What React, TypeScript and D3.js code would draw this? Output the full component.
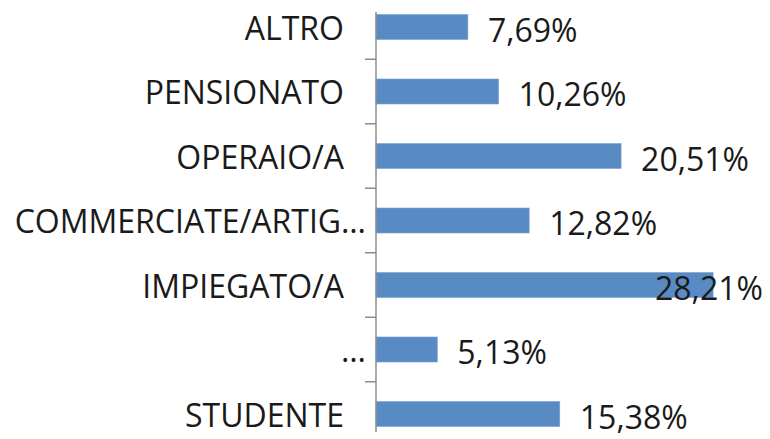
import React from 'react';
import * as d3 from 'd3';

// categories top to bottom, values in %
const categories = ['ALTRO', 'PENSIONATO', 'OPERAIO/A', 'COMMERCIATE/ARTIG…', 'IMPIEGATO/A', '…', 'STUDENTE'];
const values = [7.69, 10.26, 20.51, 12.82, 28.21, 5.13, 15.38];
const valueLabels = ['7,69%', '10,26%', '20,51%', '12,82%', '28,21%', '5,13%', '15,38%'];

const W = 770;
const H = 439;
const axisX = 376;
const font = '"Open Sans", sans-serif';

const App: React.FC = () => {
  const y = d3.scaleBand<string>()
    .domain(categories)
    .range([-5.25, 446.25])
    .paddingInner(0.612)
    .paddingOuter(0.306);

  const x = d3.scaleLinear().domain([0, 30]).range([axisX, axisX + 358.5]);

  const step = y.step();
  const tickYs = categories.slice(1).map(c => (y(c) as number) - (step - y.bandwidth()) / 2);

  return (
    <svg width={W} height={H} style={{ position: 'absolute', left: 0, top: 0, background: '#fff' }}>
      {categories.map((c, i) => {
        const yc = (y(c) as number) + y.bandwidth() / 2;
        const truncated = c.endsWith('…');
        const barEnd = x(values[i]);
        return (
          <g key={c}>
            <rect x={x(0)} y={y(c)} width={barEnd - x(0)} height={y.bandwidth()}
              fill="#588ac4" stroke="#7ea3d2" strokeWidth={0.6} />
            <text x={truncated ? 366 : 344} y={yc} textAnchor="end" dominantBaseline="central"
              fontFamily={font} fontSize={32} fill="#1a1a1a">{c}</text>
            <text x={Math.min(barEnd + 20, 655)} y={yc + 2} dominantBaseline="central"
              fontFamily={font} fontSize={32} fill="#1a1a1a">{valueLabels[i]}</text>
          </g>
        );
      })}
      <line x1={axisX} x2={axisX} y1={12} y2={432} stroke="#8c8c8c" strokeWidth={1.5} />
      {tickYs.map((t, i) => (
        <line key={i} x1={axisX - 11} x2={axisX} y1={t} y2={t} stroke="#8c8c8c" strokeWidth={1.5} />
      ))}
    </svg>
  );
};

export default App;
